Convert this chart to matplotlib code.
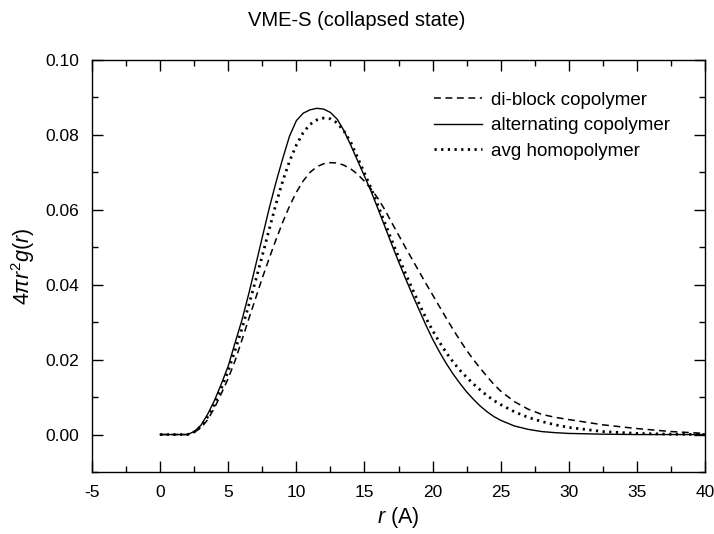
import numpy as np
import matplotlib
matplotlib.use("Agg")
import matplotlib.pyplot as plt
from matplotlib.ticker import MultipleLocator, FormatStrFormatter

plt.rcParams["font.family"] = ["Liberation Sans", "DejaVu Sans"]
plt.rcParams["axes.unicode_minus"] = False
plt.rcParams["mathtext.fontset"] = "custom"
plt.rcParams["mathtext.rm"] = "Liberation Sans"
plt.rcParams["mathtext.it"] = "Liberation Sans:italic"

# radial distance (A)
r = [0, 1, 2, 2.5, 3, 3.5, 4, 4.5, 5, 5.5, 6, 6.5, 7, 7.5, 8, 8.5, 9, 9.5,
     10, 10.5, 11, 11.5, 12, 12.5, 13, 13.5, 14, 14.5, 15, 15.5, 16, 16.5,
     17, 17.5, 18, 18.5, 19, 19.5, 20, 20.5, 21, 21.5, 22, 22.5, 23, 23.5,
     24, 24.5, 25, 26, 27, 28, 29, 30, 32.5, 35, 37.5, 40]

# 4*pi*r^2*g(r) for each chain
diblock = [0, 0, 0, 0.0006, 0.0018, 0.0040, 0.0072, 0.0110, 0.0150, 0.0197,
           0.0252, 0.0308, 0.0363, 0.0418, 0.0470, 0.0520, 0.0567, 0.0610,
           0.0647, 0.0677, 0.0700, 0.0715, 0.0723, 0.0726, 0.0725, 0.0719,
           0.0709, 0.0695, 0.0676, 0.0655, 0.0630, 0.0600, 0.0566, 0.0533,
           0.0500, 0.0468, 0.0436, 0.0404, 0.0373, 0.0342, 0.0311, 0.0281,
           0.0252, 0.0225, 0.0200, 0.0177, 0.0155, 0.0134, 0.0116, 0.0088,
           0.0068, 0.0054, 0.0046, 0.0040, 0.0026, 0.0016, 0.0008, 0.0003]

alternating = [0, 0, 0, 0.0008, 0.0025, 0.0055, 0.0092, 0.0136, 0.0183, 0.0245,
               0.0305, 0.0375, 0.0450, 0.0527, 0.0603, 0.0673, 0.0737, 0.0797,
               0.0838, 0.0858, 0.0867, 0.0871, 0.0869, 0.0860, 0.0842, 0.0811,
               0.0772, 0.0731, 0.0690, 0.0648, 0.0602, 0.0555, 0.0508, 0.0462,
               0.0418, 0.0375, 0.0334, 0.0293, 0.0255, 0.0221, 0.0190, 0.0162,
               0.0137, 0.0114, 0.0094, 0.0076, 0.0061, 0.0048, 0.0038, 0.0023,
               0.0014, 0.0008, 0.0005, 0.0003, 0.0001, 0, 0, 0]

homopolymer = [0, 0, 0, 0.0007, 0.0022, 0.0048, 0.0082, 0.0124, 0.0170, 0.0225,
               0.0282, 0.0345, 0.0410, 0.0478, 0.0547, 0.0615, 0.0677, 0.0730,
               0.0773, 0.0806, 0.0828, 0.0840, 0.0845, 0.0843, 0.0832, 0.0810,
               0.0780, 0.0739, 0.0698, 0.0656, 0.0611, 0.0565, 0.0519, 0.0474,
               0.0431, 0.0390, 0.0350, 0.0312, 0.0278, 0.0247, 0.0219, 0.0194,
               0.0172, 0.0153, 0.0135, 0.0119, 0.0104, 0.0091, 0.0080, 0.0061,
               0.0046, 0.0035, 0.0026, 0.0019, 0.0008, 0.0003, 0.0001, 0]

fig = plt.figure(figsize=(7.14, 5.34), dpi=100)
ax = fig.add_axes([0.1289, 0.1161, 0.8585, 0.7715])

ax.plot(r, diblock, color="black", lw=1.1, linestyle=(0, (4.5, 3)),
        label="di-block copolymer")
ax.plot(r, alternating, color="black", lw=1.0, label="alternating copolymer")
ax.plot(r, homopolymer, color="black", lw=2.0, linestyle=(0, (0.8, 1.6)),
        label="avg homopolymer")

ax.set_xlim(-5, 40)
ax.set_ylim(-0.01, 0.10)
ax.xaxis.set_major_locator(MultipleLocator(5))
ax.xaxis.set_minor_locator(MultipleLocator(2.5))
ax.yaxis.set_major_locator(MultipleLocator(0.02))
ax.yaxis.set_minor_locator(MultipleLocator(0.01))
ax.yaxis.set_major_formatter(FormatStrFormatter("%.2f"))
ax.tick_params(which="both", direction="in", top=True, right=True,
               labelsize=12.5, width=1.0)
ax.tick_params(which="major", length=8, pad=9)
ax.tick_params(which="minor", length=4)
for s in ax.spines.values():
    s.set_linewidth(1.0)

ax.set_xlabel(r"$r$ (A)", fontsize=15.5, labelpad=4)
ax.set_ylabel(r"$4\pi r^2g(r)$", fontsize=15.5, labelpad=6)
fig.text(0.5, 0.962, "VME-S (collapsed state)", ha="center", va="center",
         fontsize=14.5)

ax.legend(loc="upper left", bbox_to_anchor=(0.545, 0.942), frameon=False,
          fontsize=13.5, handlelength=2.6, handletextpad=0.45,
          labelspacing=0.45, borderaxespad=0)

fig.savefig("out.png", dpi=100)
